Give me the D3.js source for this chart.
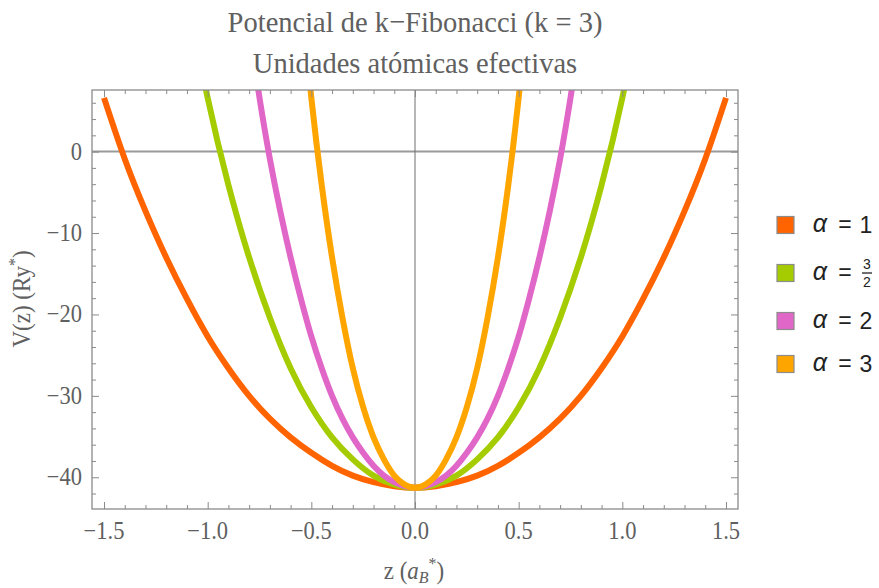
<!DOCTYPE html>
<html>
<head>
<meta charset="utf-8">
<script src="https://cdn.jsdelivr.net/npm/d3@7"></script>
<style>
  html, body { margin: 0; padding: 0; background: #fff; }
  svg { display: block; }
</style>
</head>
<body>
<svg id="chart" width="879" height="588"></svg>
<script>
// k-Fibonacci potential V(z) for several values of alpha (effective atomic units)
const seriesNames = ["α = 1", "α = 3/2", "α = 2", "α = 3"];
const seriesValueLabels = ["1", "3/2", "2", "3"];
const seriesColors = ["#ff6400", "#a5cc00", "#e066c8", "#ffa500"];

const zAlpha1 = [-1.5, -1.4, -1.3, -1.2, -1.1, -1.0, -0.9, -0.8, -0.7, -0.6, -0.5, -0.4, -0.3, -0.2, -0.1,
                 0, 0.1, 0.2, 0.3, 0.4, 0.5, 0.6, 0.7, 0.8, 0.9, 1.0, 1.1, 1.2, 1.3, 1.4, 1.5];
const vAlpha1 = [6.6, -0.9, -7.3, -13.0, -18.1, -22.7, -26.6, -30.0, -32.8, -35.1, -37.0, -38.6, -39.8, -40.6, -41.1,
                 -41.3, -41.1, -40.6, -39.8, -38.6, -37.0, -35.1, -32.8, -30.0, -26.6, -22.7, -18.1, -13.0, -7.3, -0.9, 6.6];

const zAlpha32 = [-1.1, -1.0, -0.9, -0.8, -0.7, -0.6, -0.5, -0.4, -0.3, -0.2, -0.1,
                  0, 0.1, 0.2, 0.3, 0.4, 0.5, 0.6, 0.7, 0.8, 0.9, 1.0, 1.1];
const vAlpha32 = [19.4, 6.6, -4.1, -13.0, -20.4, -26.6, -31.4, -35.1, -37.8, -39.8, -40.9,
                  -41.3, -40.9, -39.8, -37.8, -35.1, -31.4, -26.6, -20.4, -13.0, -4.1, 6.6, 19.4];

const zAlpha2 = [-0.8, -0.75, -0.7, -0.65, -0.6, -0.55, -0.5, -0.45, -0.4, -0.35, -0.3, -0.25, -0.2, -0.15, -0.1, -0.05,
                 0, 0.05, 0.1, 0.15, 0.2, 0.25, 0.3, 0.35, 0.4, 0.45, 0.5, 0.55, 0.6, 0.65, 0.7, 0.75, 0.8];
const vAlpha2 = [15.0, 6.6, -0.9, -7.3, -13.0, -18.1, -22.7, -26.6, -30.0, -32.8, -35.1, -37.0, -38.6, -39.8, -40.6, -41.1,
                 -41.3, -41.1, -40.6, -39.8, -38.6, -37.0, -35.1, -32.8, -30.0, -26.6, -22.7, -18.1, -13.0, -7.3, -0.9, 6.6, 15.0];

const zAlpha3 = [-0.55, -0.5, -0.45, -0.4, -0.35, -0.3, -0.25, -0.2, -0.15, -0.1, -0.05,
                 0, 0.05, 0.1, 0.15, 0.2, 0.25, 0.3, 0.35, 0.4, 0.45, 0.5, 0.55];
const vAlpha3 = [19.4, 6.6, -4.1, -13.0, -20.4, -26.6, -31.4, -35.1, -37.8, -39.8, -40.9,
                 -41.3, -40.9, -39.8, -37.8, -35.1, -31.4, -26.6, -20.4, -13.0, -4.1, 6.6, 19.4];

const xMajorTicks = [-1.5, -1.0, -0.5, 0.0, 0.5, 1.0, 1.5];
const xTickLabels = ["−1.5", "−1.0", "−0.5", "0.0", "0.5", "1.0", "1.5"];
const yMajorTicks = [0, -10, -20, -30, -40];
const yTickLabels = ["0", "−10", "−20", "−30", "−40"];

const titleLines = ["Potencial de k−Fibonacci (k = 3)", "Unidades atómicas efectivas"];

const series = [
  { z: zAlpha1, v: vAlpha1 },
  { z: zAlpha32, v: vAlpha32 },
  { z: zAlpha2, v: vAlpha2 },
  { z: zAlpha3, v: vAlpha3 }
].map((s, i) => ({
  name: seriesNames[i],
  valueLabel: seriesValueLabels[i],
  color: seriesColors[i],
  points: s.z.map((z, j) => ({ z, v: s.v[j] }))
}));

const svg = d3.select("#chart");
const plot = { left: 92, right: 738, top: 90, bottom: 509 };

const x = d3.scaleLinear().domain([-1.558, 1.558]).range([plot.left, plot.right]);
const y = d3.scaleLinear().domain([-43.9, 7.57]).range([plot.bottom, plot.top]);

const serif = "'Liberation Serif', 'Times New Roman', serif";
const sans = "'Liberation Sans', Arial, sans-serif";
const textGrey = "#606060";

// text helper with an optional vertical stretch
function label(parent, px, py, str, opts = {}) {
  const g = parent.append("g").attr("transform", `translate(${px},${py}) scale(1,${opts.sy || 1.08})`);
  return g.append("text")
    .attr("x", 0).attr("y", 0)
    .attr("text-anchor", opts.anchor || "middle")
    .attr("font-family", opts.family || serif)
    .attr("font-size", opts.size || 20)
    .attr("fill", opts.fill || textGrey)
    .text(str);
}

// titles
label(svg, 415, 32, titleLines[0], { size: 28.5, sy: 1.06 });
label(svg, 415, 73, titleLines[1], { size: 28.5, sy: 1.06 });

// clip for curves
svg.append("defs").append("clipPath").attr("id", "plotClip")
  .append("rect")
  .attr("x", plot.left).attr("y", plot.top)
  .attr("width", plot.right - plot.left).attr("height", plot.bottom - plot.top);

// zero axes
svg.append("line")
  .attr("x1", plot.left).attr("x2", plot.right)
  .attr("y1", y(0)).attr("y2", y(0))
  .attr("stroke", "#9a9a9a").attr("stroke-width", 2);
svg.append("line")
  .attr("x1", x(0)).attr("x2", x(0))
  .attr("y1", plot.top).attr("y2", plot.bottom)
  .attr("stroke", "#6e6e6e").attr("stroke-width", 1);

// curves
const line = d3.line()
  .x(d => x(d.z))
  .y(d => y(d.v))
  .curve(d3.curveNatural);

svg.append("g").attr("clip-path", "url(#plotClip)")
  .selectAll("path")
  .data(series)
  .join("path")
  .attr("d", d => line(d.points))
  .attr("fill", "none")
  .attr("stroke", d => d.color)
  .attr("stroke-width", 6);

// frame ticks (pointing inward on all four sides)
const tickColor = "#8a8a8a";
const xMinor = d3.range(-15, 16).map(k => k / 10).filter(v => !xMajorTicks.some(m => Math.abs(m - v) < 1e-9));
const yMinor = d3.range(-42, 8, 2).filter(v => v % 10 !== 0);

function drawAxis(ax, tr) {
  const g = svg.append("g").attr("transform", tr).call(ax);
  g.select(".domain").remove();
  g.selectAll("line").attr("stroke", tickColor).attr("stroke-width", 1);
}
const mk = (fn, scale, vals, len) => fn(scale).tickValues(vals).tickFormat("").tickSizeInner(-len).tickSizeOuter(0);
drawAxis(mk(d3.axisBottom, x, xMajorTicks, 7), `translate(0,${plot.bottom})`);
drawAxis(mk(d3.axisBottom, x, xMinor, 4), `translate(0,${plot.bottom})`);
drawAxis(mk(d3.axisTop, x, xMajorTicks, 7), `translate(0,${plot.top})`);
drawAxis(mk(d3.axisTop, x, xMinor, 4), `translate(0,${plot.top})`);
drawAxis(mk(d3.axisLeft, y, yMajorTicks, 7), `translate(${plot.left},0)`);
drawAxis(mk(d3.axisLeft, y, yMinor, 4), `translate(${plot.left},0)`);
drawAxis(mk(d3.axisRight, y, yMajorTicks, 7), `translate(${plot.right},0)`);
drawAxis(mk(d3.axisRight, y, yMinor, 4), `translate(${plot.right},0)`);

// frame
svg.append("rect")
  .attr("x", plot.left).attr("y", plot.top)
  .attr("width", plot.right - plot.left).attr("height", plot.bottom - plot.top)
  .attr("fill", "none").attr("stroke", "#8a8a8a").attr("stroke-width", 1.3);

// tick labels
xMajorTicks.forEach((v, i) => label(svg, x(v), 539, xTickLabels[i], { size: 22.5 }));
yMajorTicks.forEach((v, i) => label(svg, 82, y(v) + 8, yTickLabels[i], { size: 22.5, anchor: "end" }));

// axis titles
{
  const g = svg.append("g").attr("transform", `translate(414,579) scale(1,1.08)`);
  const t = g.append("text").attr("text-anchor", "middle")
    .attr("font-family", serif).attr("font-size", 23).attr("fill", textGrey);
  t.append("tspan").text("z (");
  t.append("tspan").attr("font-style", "italic").text("a");
  t.append("tspan").attr("font-style", "italic").attr("font-size", 16).attr("dy", 4).text("B");
  t.append("tspan").attr("font-size", 16).attr("dy", -13).text("*");
  t.append("tspan").attr("dy", 9).text(")");
}
{
  const g = svg.append("g").attr("transform", `translate(30,299) rotate(-90) scale(1,1.08)`);
  const t = g.append("text").attr("text-anchor", "middle")
    .attr("font-family", serif).attr("font-size", 23).attr("fill", textGrey);
  t.append("tspan").text("V(z) (Ry");
  t.append("tspan").attr("font-size", 16).attr("dy", -9).text("*");
  t.append("tspan").attr("dy", 9).text(")");
}

// legend
const legendRows = [225, 273, 321, 364];
const legend = svg.append("g");
const ink = "#222";
series.forEach((s, i) => {
  const cy = legendRows[i];
  legend.append("rect")
    .attr("x", 777).attr("y", cy - 8.5).attr("width", 17).attr("height", 17)
    .attr("fill", s.color).attr("stroke", "#8c8c8c").attr("stroke-width", 1.2);
  legend.append("text").attr("x", 820).attr("y", cy + 7).attr("text-anchor", "middle")
    .attr("font-family", sans).attr("font-style", "italic").attr("font-size", 25).attr("fill", ink).text("α");
  legend.append("text").attr("x", 845).attr("y", cy + 7).attr("text-anchor", "middle")
    .attr("font-family", sans).attr("font-size", 23).attr("fill", ink).text("=");
  const parts = s.valueLabel.split("/");
  if (parts.length === 2) {
    const fx = 867;
    legend.append("text").attr("x", fx).attr("y", cy - 4).attr("text-anchor", "middle")
      .attr("font-family", sans).attr("font-size", 14).attr("fill", ink).text(parts[0]);
    legend.append("line").attr("x1", fx - 5).attr("x2", fx + 5).attr("y1", cy).attr("y2", cy)
      .attr("stroke", ink).attr("stroke-width", 1.3);
    legend.append("text").attr("x", fx).attr("y", cy + 14).attr("text-anchor", "middle")
      .attr("font-family", sans).attr("font-size", 14).attr("fill", ink).text(parts[1]);
  } else {
    legend.append("text").attr("x", 866).attr("y", cy + 8).attr("text-anchor", "middle")
      .attr("font-family", sans).attr("font-size", 23).attr("fill", ink).text(s.valueLabel);
  }
});
</script>
</body>
</html>
